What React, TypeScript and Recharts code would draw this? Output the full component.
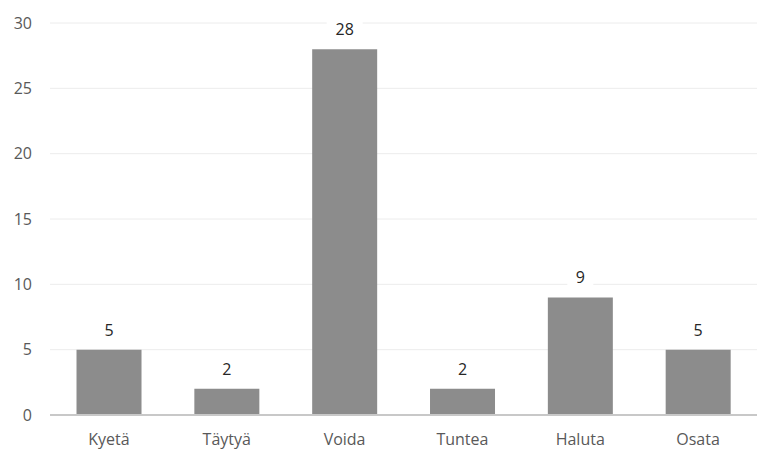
import React from 'react';
import { BarChart, Bar, XAxis, YAxis, CartesianGrid, LabelList } from 'recharts';

const verbs = ['Kyetä', 'Täytyä', 'Voida', 'Tuntea', 'Haluta', 'Osata'];
const counts = [5, 2, 28, 2, 9, 5];
const yTicks = [0, 5, 10, 15, 20, 25, 30];

const data = verbs.map((verb, i) => ({ verb, count: counts[i] }));

const FONT = '"Open Sans", "Noto Sans", sans-serif';

// value label with a white backing so the gridline breaks around it
function ValueLabel(props: any) {
  const { x, y, width, value } = props;
  const cx = x + width / 2;
  const cy = y - 20;
  const w = String(value).length * 10 + 16;
  return (
    <g>
      <rect x={cx - w / 2} y={cy - 10} width={w} height={20} fill="#ffffff" />
      <text
        x={cx}
        y={cy}
        textAnchor="middle"
        dominantBaseline="central"
        fontSize={16}
        fontFamily={FONT}
        fill="#262626"
      >
        {value}
      </text>
    </g>
  );
}

export default function App() {
  return (
    <div style={{ position: 'fixed', left: 0, top: 0, background: '#fff' }}>
      <BarChart
        width={757}
        height={449}
        data={data}
        margin={{ top: 23, right: 0, bottom: 0, left: 0 }}
        barCategoryGap="22.5%"
      >
        <CartesianGrid vertical={false} stroke="#ececec" strokeWidth={1} />
        <XAxis
          dataKey="verb"
          height={34}
          tickLine={false}
          axisLine={{ stroke: '#c8c8c8', strokeWidth: 2 }}
          tickMargin={13}
          tick={{ fontSize: 16, fontFamily: FONT, fill: '#595959' }}
          interval={0}
        />
        <YAxis
          width={50}
          domain={[0, 30]}
          ticks={yTicks}
          tickLine={false}
          axisLine={false}
          tickSize={0}
          tickMargin={18}
          tick={{ fontSize: 16, fontFamily: FONT, fill: '#595959' }}
        />
        <Bar dataKey="count" fill="#8c8c8c" isAnimationActive={false}>
          <LabelList dataKey="count" content={<ValueLabel />} />
        </Bar>
      </BarChart>
    </div>
  );
}
